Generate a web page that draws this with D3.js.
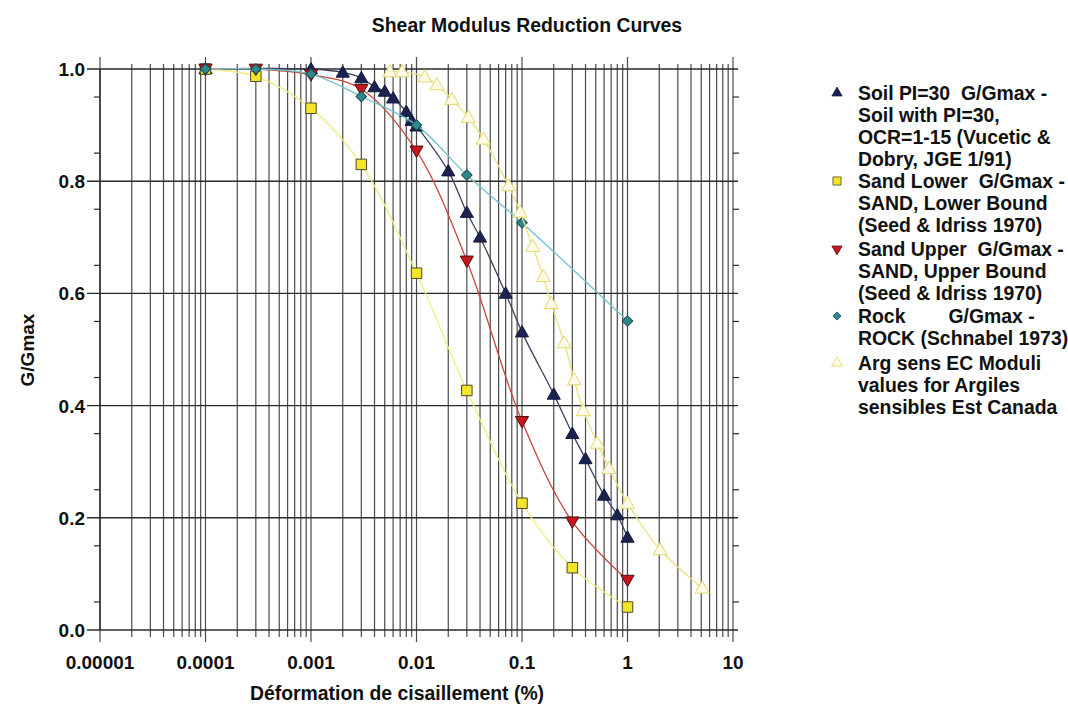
<!DOCTYPE html>
<html>
<head>
<meta charset="utf-8">
<script src="https://cdn.jsdelivr.net/npm/d3@7"></script>
<style>
  body { margin: 0; background: #fff; }
  text { font-family: "Liberation Sans", Arial, sans-serif; font-weight: bold; fill: #111; }
</style>
</head>
<body>
<script>
// strain (%) and G/Gmax values
const soilStrain = [0.0001, 0.001, 0.002, 0.003, 0.004, 0.005, 0.006, 0.008, 0.009, 0.01, 0.02, 0.03, 0.04, 0.07, 0.1, 0.2, 0.3, 0.4, 0.6, 0.8, 1];
const soilG      = [1.0, 1.0, 0.994, 0.984, 0.968, 0.960, 0.948, 0.924, 0.908, 0.898, 0.818, 0.744, 0.700, 0.600, 0.531, 0.420, 0.350, 0.305, 0.240, 0.205, 0.165];

const sandLowerStrain = [0.0001, 0.0003, 0.001, 0.003, 0.01, 0.03, 0.1, 0.3, 1];
const sandLowerG      = [1.0, 0.987, 0.930, 0.830, 0.636, 0.427, 0.226, 0.111, 0.041];

const sandUpperStrain = [0.0001, 0.0003, 0.001, 0.003, 0.01, 0.03, 0.1, 0.3, 1];
const sandUpperG      = [1.0, 1.0, 0.990, 0.964, 0.854, 0.658, 0.372, 0.193, 0.089];

const rockStrain = [0.0001, 0.0003, 0.001, 0.003, 0.01, 0.03, 0.1, 1];
const rockG      = [1.0, 1.0, 0.991, 0.951, 0.900, 0.811, 0.726, 0.551];

const argStrain = [0.0056, 0.0073, 0.012, 0.0156, 0.0216, 0.031, 0.043, 0.0745, 0.096, 0.126, 0.159, 0.189, 0.251, 0.313, 0.381, 0.517, 0.666, 1.0, 2.04, 5.1];
const argG      = [0.995, 0.995, 0.986, 0.972, 0.946, 0.914, 0.875, 0.792, 0.745, 0.684, 0.630, 0.582, 0.512, 0.446, 0.391, 0.333, 0.288, 0.226, 0.143, 0.075];

const xTickValues = [0.00001, 0.0001, 0.001, 0.01, 0.1, 1, 10];
const xTickLabels = ["0.00001", "0.0001", "0.001", "0.01", "0.1", "1", "10"];
const yTickValues = [0, 0.2, 0.4, 0.6, 0.8, 1.0];
const yTickLabels = ["0.0", "0.2", "0.4", "0.6", "0.8", "1.0"];

const legendLines = [
    ["Soil PI=30  G/Gmax -", "Soil with PI=30,", "OCR=1-15 (Vucetic &", "Dobry, JGE 1/91)"],
    ["Sand Lower  G/Gmax -", "SAND, Lower Bound", "(Seed & Idriss 1970)"],
    ["Sand Upper  G/Gmax -", "SAND, Upper Bound", "(Seed & Idriss 1970)"],
    ["Rock        G/Gmax -", "ROCK (Schnabel 1973)"],
    ["Arg sens EC Moduli", "values for Argiles", "sensibles Est Canada"]
];
const legendTop = [100, 188, 256, 323, 370];

// canvas and plot area
const canvWidth = 1068, canvHeight = 711;
const margin = {top: 69, right: 335, bottom: 81, left: 100};
const width = canvWidth - margin.left - margin.right;
const height = canvHeight - margin.top - margin.bottom;

const svg = d3.select("body").append("svg")
    .attr("width", canvWidth)
    .attr("height", canvHeight);

const g = svg.append("g")
    .attr("transform", `translate(${margin.left},${margin.top})`);

const xScale = d3.scaleLog().domain([0.00001, 10]).range([0, width]);
const yScale = d3.scaleLinear().domain([0, 1]).range([height, 0]);

// vertical grid (1..9 per decade)
const xAll = xScale.ticks();
g.append("g").attr("id", "xGrid")
    .selectAll("line")
    .data(xAll)
    .enter().append("line")
    .attr("x1", d => xScale(d))
    .attr("x2", d => xScale(d))
    .attr("y1", d => xTickValues.includes(d) ? -12 : -5)
    .attr("y2", d => xTickValues.includes(d) ? height + 12 : height + 7)
    .attr("stroke", "#4a4a4a")
    .attr("stroke-width", 1.2);

// horizontal grid at major values
g.append("g").attr("id", "yGrid")
    .selectAll("line")
    .data(yTickValues)
    .enter().append("line")
    .attr("x1", -13)
    .attr("x2", width + 5)
    .attr("y1", d => yScale(d))
    .attr("y2", d => yScale(d))
    .attr("stroke", "#2a2a2a")
    .attr("stroke-width", 1.4);

// minor y ticks on both sides
const yMinor = d3.range(0.05, 1, 0.1);
g.append("g").attr("id", "yMinor")
    .selectAll("line")
    .data(yMinor.concat(yMinor))
    .enter().append("line")
    .attr("x1", (d, i) => i < yMinor.length ? -6 : width)
    .attr("x2", (d, i) => i < yMinor.length ? 0 : width + 6)
    .attr("y1", d => yScale(d))
    .attr("y2", d => yScale(d))
    .attr("stroke", "#2a2a2a")
    .attr("stroke-width", 1.2);

// left axis line
g.append("line")
    .attr("x1", 0).attr("x2", 0)
    .attr("y1", 0).attr("y2", height)
    .attr("stroke", "#2a2a2a").attr("stroke-width", 1.4);

// tick labels
g.append("g").attr("id", "xLabels")
    .selectAll("text")
    .data(xTickValues)
    .enter().append("text")
    .attr("x", d => xScale(d))
    .attr("y", height + 39)
    .attr("font-size", "19px")
    .style("text-anchor", "middle")
    .text((d, i) => xTickLabels[i]);

g.append("g").attr("id", "yLabels")
    .selectAll("text")
    .data(yTickValues)
    .enter().append("text")
    .attr("x", -15)
    .attr("y", d => yScale(d) + 7)
    .attr("font-size", "19px")
    .style("text-anchor", "end")
    .text((d, i) => yTickLabels[i]);

// titles
svg.append("text")
    .attr("x", 527).attr("y", 32)
    .attr("font-size", "19.4px")
    .style("text-anchor", "middle")
    .text("Shear Modulus Reduction Curves");

svg.append("text")
    .attr("x", 397).attr("y", 700)
    .attr("font-size", "19.4px")
    .style("text-anchor", "middle")
    .text("Déformation de cisaillement (%)");

svg.append("text")
    .attr("transform", "translate(34,350) rotate(-90)")
    .attr("font-size", "19px")
    .style("text-anchor", "middle")
    .text("G/Gmax");

// series
const series = [
    {x: soilStrain, y: soilG, line: "#3b405e", fill: "#1c2250", stroke: "#111a40", sym: d3.symbolTriangle, size: 75, rot: 0},
    {x: sandLowerStrain, y: sandLowerG, line: "#f2ec7c", fill: "#f5e52a", stroke: "#4a4a30", sym: d3.symbolSquare, size: 110, rot: 0},
    {x: sandUpperStrain, y: sandUpperG, line: "#c9453f", fill: "#c8141c", stroke: "#4a1010", sym: d3.symbolTriangle, size: 75, rot: 180},
    {x: rockStrain, y: rockG, line: "#6fc4cc", fill: "#2b8a8c", stroke: "#1e4a4a", sym: d3.symbolSquare, size: 55, rot: 45},
    {x: argStrain, y: argG, line: "#ece27a", fill: "#fffbe8", stroke: "#e3d866", sym: d3.symbolTriangle, size: 85, rot: 0}
];

const lineGen = d3.line()
    .x(d => xScale(d[0]))
    .y(d => yScale(d[1]))
    .curve(d3.curveCatmullRom.alpha(0.5));

series.forEach((s, k) => {
    const pts = s.x.map((v, i) => [v, s.y[i]]);
    const sg = g.append("g").attr("id", "series_" + k);
    sg.append("path")
        .attr("d", lineGen(pts))
        .attr("fill", "none")
        .attr("stroke", s.line)
        .attr("stroke-width", 1.3);
    sg.selectAll("path.pt")
        .data(pts)
        .enter().append("path")
        .attr("class", "pt")
        .attr("d", d3.symbol().type(s.sym).size(s.size))
        .attr("transform", d => `translate(${xScale(d[0])},${yScale(d[1]) + (s.sym === d3.symbolTriangle ? (s.rot ? -1 : 1) : 0)}) rotate(${s.rot})`)
        .attr("fill", s.fill)
        .attr("stroke", s.stroke)
        .attr("stroke-width", 1);
});

// legend
const legend = svg.append("g").attr("id", "legend");
const lineH = 22;
legendLines.forEach((lines, k) => {
    const s = series[k];
    const ly = legendTop[k];
    legend.append("path")
        .attr("d", d3.symbol().type(s.sym).size(s.size * 0.6))
        .attr("transform", `translate(837,${ly - 7}) rotate(${s.rot})`)
        .attr("fill", s.fill)
        .attr("stroke", s.stroke)
        .attr("stroke-width", 0.8);
    lines.forEach((t, i) => {
        legend.append("text")
            .attr("x", 858)
            .attr("y", ly + i * lineH)
            .attr("font-size", "19.4px")
            .attr("xml:space", "preserve")
            .style("white-space", "pre")
            .text(t);
    });
});
</script>
</body>
</html>
